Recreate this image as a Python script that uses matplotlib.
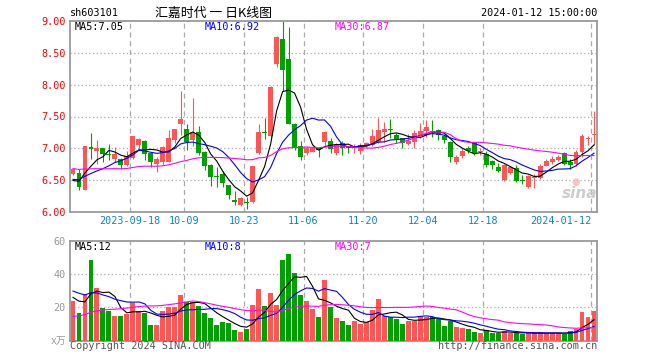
import matplotlib
matplotlib.use("Agg")
import matplotlib.pyplot as plt
import matplotlib.transforms as mtransforms
import numpy as np
import pandas as pd

plt.rcParams['font.family'] = ['DejaVu Sans Mono', 'Noto Sans CJK SC']

W, H = 660, 360

# daily K-line, sh603101, 2023-09-04 .. 2024-01-12 (88 trading days)
open_ = [6.60, 6.61, 6.35, 7.02, 6.96, 7.00, 6.91, 6.83, 6.83, 6.74,
         6.85, 7.05, 7.12, 6.92, 6.76, 6.79, 6.79, 7.13, 7.39, 7.31,
         7.13, 7.26, 6.95, 6.74, 6.57, 6.60, 6.42, 6.19, 6.11, 6.15,
         6.16, 6.92, 7.25, 7.19, 8.32, 8.72, 8.41, 7.38, 7.04, 6.93,
         6.95, 7.00, 7.10, 7.12, 6.92, 7.09, 7.03, 7.01, 6.96, 7.05,
         7.05, 7.10, 7.25, 7.30, 7.21, 7.16, 7.07, 7.10, 7.20, 7.27,
         7.26, 7.29, 7.19, 7.10, 6.79, 6.88, 7.00, 7.08, 6.94, 6.91,
         6.80, 6.70, 6.50, 6.62, 6.69, 6.51, 6.39, 6.54, 6.54, 6.73,
         6.79, 6.82, 6.93, 6.78, 6.76, 6.95, 7.15, 7.21]
high = [6.69, 6.67, 7.04, 7.24, 7.13, 7.01, 7.07, 7.02, 6.85, 6.96,
        7.20, 7.17, 7.13, 6.94, 6.87, 7.03, 7.29, 7.31, 7.90, 7.39,
        7.79, 7.35, 6.96, 6.76, 6.71, 6.65, 6.43, 6.33, 6.24, 6.23,
        6.73, 7.38, 7.47, 7.98, 8.76, 9.00, 8.90, 7.40, 7.12, 7.03,
        7.03, 7.02, 7.28, 7.16, 7.08, 7.11, 7.04, 7.07, 7.09, 7.10,
        7.31, 7.47, 7.42, 7.46, 7.24, 7.16, 7.22, 7.29, 7.40, 7.44,
        7.44, 7.30, 7.22, 7.12, 6.90, 7.00, 7.04, 7.09, 7.00, 6.96,
        6.81, 6.77, 6.75, 6.72, 6.74, 6.58, 6.58, 6.60, 6.76, 6.84,
        6.88, 6.90, 6.95, 6.83, 6.97, 7.23, 7.19, 7.58]
low = [6.58, 6.35, 6.34, 6.84, 6.76, 6.78, 6.82, 6.78, 6.68, 6.73,
       6.83, 6.97, 6.82, 6.71, 6.63, 6.74, 6.78, 7.08, 7.21, 6.98,
       7.03, 6.90, 6.66, 6.41, 6.40, 6.40, 6.20, 6.11, 6.10, 6.05,
       6.14, 6.91, 7.14, 7.17, 8.27, 7.90, 7.38, 6.97, 6.82, 6.90,
       6.94, 6.86, 7.04, 6.92, 6.90, 6.90, 6.93, 6.93, 6.91, 7.02,
       7.03, 7.08, 7.10, 7.16, 7.08, 7.00, 7.05, 7.00, 7.17, 7.18,
       7.18, 7.13, 7.08, 6.79, 6.75, 6.85, 6.92, 6.90, 6.90, 6.70,
       6.68, 6.63, 6.49, 6.60, 6.47, 6.44, 6.37, 6.38, 6.52, 6.72,
       6.76, 6.80, 6.74, 6.68, 6.72, 6.87, 7.05, 7.05]
close = [6.67, 6.40, 7.04, 6.99, 7.00, 6.91, 6.90, 6.91, 6.74, 6.88,
         7.19, 7.15, 6.91, 6.79, 6.83, 7.02, 7.17, 7.30, 7.46, 7.10,
         7.25, 6.92, 6.73, 6.55, 6.55, 6.45, 6.27, 6.16, 6.22, 6.14,
         6.72, 7.26, 7.24, 7.97, 8.75, 8.23, 7.39, 7.00, 6.87, 7.01,
         7.01, 6.97, 7.26, 6.99, 7.07, 7.00, 7.01, 7.03, 7.05, 7.08,
         7.19, 7.29, 7.30, 7.29, 7.14, 7.08, 7.12, 7.24, 7.27, 7.33,
         7.25, 7.21, 7.13, 6.86, 6.86, 6.96, 6.96, 6.93, 6.95, 6.74,
         6.74, 6.65, 6.74, 6.70, 6.49, 6.48, 6.57, 6.55, 6.72, 6.80,
         6.83, 6.86, 6.76, 6.74, 6.95, 7.20, 7.16, 7.22]
# volume, 10k shares
volume = [24.0, 16.6, 28.0, 48.4, 31.6, 19.8, 18.0, 14.8, 14.8, 16.2,
          22.8, 18.0, 16.6, 9.4, 9.4, 17.8, 20.0, 20.2, 27.4, 23.4,
          23.0, 21.0, 16.6, 13.8, 9.4, 11.4, 10.6, 6.4, 5.2, 7.0,
          21.4, 31.0, 20.8, 28.8, 21.4, 48.4, 52.2, 40.8, 27.4, 24.0,
          18.8, 14.4, 36.4, 20.0, 13.8, 12.0, 9.4, 12.0, 10.2, 11.4,
          18.6, 25.2, 14.8, 14.0, 13.0, 10.2, 12.0, 12.0, 14.8, 14.4,
          14.0, 13.0, 8.8, 12.0, 8.2, 7.8, 7.0, 5.2, 4.6, 6.4,
          4.6, 4.6, 5.8, 4.6, 4.6, 4.0, 4.6, 4.6, 4.6, 4.6,
          4.6, 4.6, 4.2, 5.8, 7.2, 17.5, 14.4, 18.0]

# the 29 sessions before the window (not drawn), only seed the moving averages
pre_close = [6.80, 6.85, 6.90, 6.95, 6.95, 6.90, 6.85, 6.80, 6.75, 6.70,
             6.70, 6.75, 6.80, 6.85, 6.80, 6.70, 6.65, 6.60, 6.55, 6.50,
             6.45, 6.50, 6.55, 6.60, 6.55, 6.45, 6.40, 6.45, 6.50]
pre_volume = [6, 7, 5, 8, 6, 7, 9, 6, 5, 7,
              8, 6, 7, 8, 9, 7, 6, 8, 7, 8,
              30, 38, 35, 33, 32, 28, 30, 24, 24]

holidays = ["2023-09-29", "2023-10-02", "2023-10-03", "2023-10-04",
            "2023-10-05", "2023-10-06", "2024-01-01"]
tick_dates = ["2023-09-18", "2023-10-09", "2023-10-23", "2023-11-06",
              "2023-11-20", "2023-12-04", "2023-12-18", "2024-01-12"]
tick_labels = ["2023-09-18", "10-09", "10-23", "11-06", "11-20",
               "12-04", "12-18", "2024-01-12"]
price_ticks = [6.00, 6.50, 7.00, 7.50, 8.00, 8.50, 9.00]
vol_ticks = [20, 40, 60]
price_ma_text = ["MA5:7.05", "MA10:6.92", "MA30:6.87"]
vol_ma_text = ["MA5:12", "MA10:8", "MA30:7"]

RED, GREEN = "#ff5555", "#00a000"
MA_COLORS = ["#000000", "#0000ff", "#ff00ff"]
FRAME = "#9a9a9a"
GRID = "#aaaaaa"

days = pd.bdate_range("2023-09-04", "2024-01-12")
days = days[~days.isin(pd.to_datetime(holidays))]
x = np.arange(len(days))
tick_pos = [days.get_loc(pd.Timestamp(d)) for d in tick_dates]

o, h, l, c = map(np.array, (open_, high, low, close))
up = c >= o
colors = np.where(up, RED, GREEN)

npre = len(pre_close)
c_all = pd.Series(pre_close + close)
v_all = pd.Series(pre_volume + volume)
price_ma = [c_all.rolling(n).mean().to_numpy()[npre:] for n in (5, 10, 30)]
vol_ma = [v_all.rolling(n).mean().to_numpy()[npre:] for n in (5, 10, 30)]


def fx(px):
    return px / W


def fy(py):
    return 1 - py / H


fig = plt.figure(figsize=(W / 100, H / 100), dpi=100)
fig.patch.set_facecolor("white")

ax = fig.add_axes([fx(70), fy(212), 527 / W, 191 / H])
vax = fig.add_axes([fx(70), fy(340.7), 527 / W, 100 / H])

for a in (ax, vax):
    a.set_xlim(-0.5, len(x) - 0.5)
    a.set_xticks([])
    for s in a.spines.values():
        s.set_color(FRAME)
        s.set_linewidth(1.3)
    for p in tick_pos:
        a.axvline(p - 0.5, color=GRID, lw=0.9, ls=(0, (4, 3)), zorder=1)

# price panel
ax.set_ylim(6.0, 9.0)
ax.set_yticks(price_ticks)
ax.set_yticklabels([f"{t:.2f}" for t in price_ticks])
ax.tick_params(axis="y", length=0, pad=3, labelsize=7.3, labelcolor="#ff0000")
for t in price_ticks[1:-1]:
    ax.axhline(t, color=GRID, lw=0.9, ls=(0, (1, 2)), zorder=1)

ax.vlines(x, l, h, colors=colors, lw=0.8, zorder=2)
body = np.maximum(np.abs(c - o), 0.015)
ax.bar(x, body, bottom=np.minimum(o, c), width=0.82, color=colors,
       linewidth=0, zorder=3)
for ma, col in zip(price_ma, MA_COLORS):
    ax.plot(x, ma, color=col, lw=0.8, zorder=4)

# volume panel
vax.set_ylim(0, 60)
vax.set_yticks(vol_ticks)
vax.tick_params(axis="y", length=0, pad=3, labelsize=7.3, labelcolor="#999999")
for t in vol_ticks[:-1]:
    vax.axhline(t, color=GRID, lw=0.9, ls=(0, (1, 2)), zorder=1)
vax.bar(x, volume, width=0.82, color=colors, linewidth=0, zorder=3)
for ma, col in zip(vol_ma, MA_COLORS):
    vax.plot(x, ma, color=col, lw=0.8, zorder=4)

# moving-average legends
for txt, col, px in zip(price_ma_text, MA_COLORS, (75, 205, 335)):
    fig.text(fx(px), fy(27.5), txt, color=col, fontsize=7.3, va="center")
for txt, col, px in zip(vol_ma_text, MA_COLORS, (75, 205, 335)):
    fig.text(fx(px), fy(246.5), txt, color=col, fontsize=7.3, va="center")

# header
fig.text(fx(70), fy(13), "sh603101", fontsize=7.3, va="center")
fig.text(fx(213), fy(13), "汇嘉时代 一 日K线图", fontsize=9.3, va="center",
         ha="center", family=["Noto Sans CJK SC", "DejaVu Sans"])
fig.text(fx(597), fy(13), "2024-01-12 15:00:00", fontsize=7.3, va="center",
         ha="right")

# date labels between the panels
trans = mtransforms.blended_transform_factory(ax.transData, fig.transFigure)
for i, (p, lab) in enumerate(zip(tick_pos, tick_labels)):
    ha = "right" if i == len(tick_pos) - 1 else "center"
    ax.text(p - 0.5, fy(221.5), lab, transform=trans, ha=ha, va="center",
            fontsize=7.3, color="#0a84c8")

# footer and unit
fig.text(fx(66), fy(341), "x万", fontsize=7, color="#999999", ha="right",
         va="center", family=["DejaVu Sans Mono", "Noto Sans CJK SC"])
fig.text(fx(70), fy(346), "Copyright 2024 SINA.COM", fontsize=7.3,
         color="#555555", va="center")
fig.text(fx(597), fy(346), "http://finance.sina.com.cn", fontsize=7.3,
         color="#555555", va="center", ha="right")

# watermark
fig.text(fx(580), fy(193), "sina", fontsize=11, color="#c8c8c8",
         style="italic", weight="bold", ha="center", va="center",
         family="DejaVu Sans", alpha=0.9)
fig.text(fx(576), fy(182), "●", fontsize=7, color="#f4b8b8", ha="center",
         va="center", family="DejaVu Sans", alpha=0.8)

fig.savefig("out.png", dpi=100)
